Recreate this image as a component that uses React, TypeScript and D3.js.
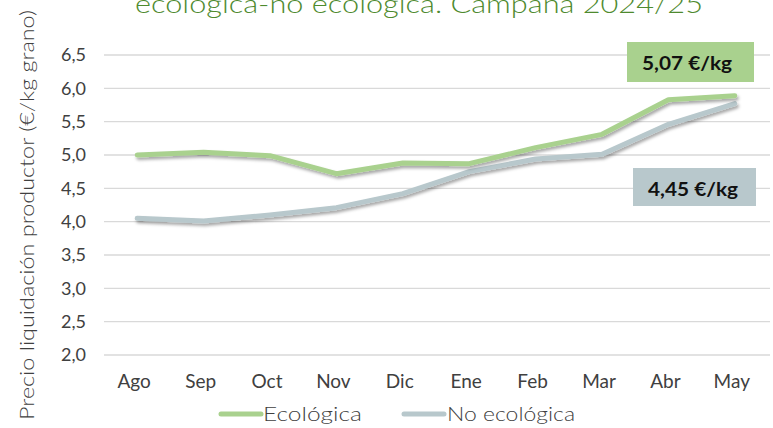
import React from 'react'
import * as d3 from 'd3'

const months = ['Ago', 'Sep', 'Oct', 'Nov', 'Dic', 'Ene', 'Feb', 'Mar', 'Abr', 'May']
const ecologica = [5.0, 5.04, 4.99, 4.72, 4.88, 4.87, 5.11, 5.31, 5.83, 5.89]
const noEcologica = [4.05, 4.01, 4.1, 4.21, 4.42, 4.75, 4.94, 5.01, 5.46, 5.77]
const yTicks = [2.0, 2.5, 3.0, 3.5, 4.0, 4.5, 5.0, 5.5, 6.0, 6.5]
const labelEco = '5,07 €/kg'
const labelNoEco = '4,45 €/kg'
const seriesNames = ['Ecológica', 'No ecológica']

const W = 773
const H = 428
const font = 'Lato, "DejaVu Sans", sans-serif'
const green = '#a9d18e'
const grey = '#b8c8cc'
const textCol = '#404040'

const App = () => {
  let x = d3.scaleBand().domain(months).range([104, 768])
  let y = d3.scaleLinear().domain([2, 6.5]).range([355, 55])
  let cx = (m: string) => (x(m) || 0) + x.bandwidth() / 2

  let line = d3.line<number>()
    .x((d, i) => cx(months[i]))
    .y(d => y(d))

  let fmt = (v: number) => d3.format('.1f')(v).replace('.', ',')

  return (
    <svg width={W} height={H} style={{ position: 'absolute', left: 0, top: 0, background: '#fff' }}>
      <defs>
        <filter id="shadow" x="-10%" y="-50%" width="120%" height="200%">
          <feDropShadow dx="1.5" dy="2.5" stdDeviation="1.6" floodColor="#000" floodOpacity="0.35" />
        </filter>
      </defs>

      {/* title, cut at the top like the original */}
      <text x={135} y={13} textLength={568} lengthAdjust="spacingAndGlyphs" fontFamily={font}
        fontWeight={300} fontSize={25} fill="#4e8a2e">
        ecológica-no ecológica. Campaña 2024/25
      </text>

      {yTicks.map(t => (
        <g key={t}>
          <line x1={104} x2={770} y1={y(t)} y2={y(t)} stroke="#d9d9d9" strokeWidth={1.3} />
          <text x={86} y={y(t)} dy="0.35em" textAnchor="end" fontFamily={font} fontSize={18} fill={textCol}>
            {fmt(t)}
          </text>
        </g>
      ))}

      <text transform="translate(34,420) rotate(-90)" textLength={410} lengthAdjust="spacingAndGlyphs"
        fontFamily={font} fontWeight={300} fontSize={19} fill={textCol}>
        Precio liquidación productor (€/kg grano)
      </text>

      {months.map(m => (
        <text key={m} x={cx(m) - 3} y={388} textAnchor="middle" fontFamily={font} fontSize={19} fill={textCol}>
          {m}
        </text>
      ))}

      <path d={line(noEcologica) || ''} fill="none" stroke={grey} strokeWidth={5}
        strokeLinejoin="round" strokeLinecap="round" filter="url(#shadow)" />
      <path d={line(ecologica) || ''} fill="none" stroke={green} strokeWidth={5}
        strokeLinejoin="round" strokeLinecap="round" filter="url(#shadow)" />

      <rect x={627} y={42} width={127} height={40} fill={green} />
      <text x={642} y={70} textLength={90} lengthAdjust="spacingAndGlyphs" fontFamily={font}
        fontWeight="bold" fontSize={19} fill="#111">
        {labelEco}
      </text>
      <rect x={633} y={168} width={123} height={38} fill={grey} />
      <text x={648} y={196} textLength={90} lengthAdjust="spacingAndGlyphs" fontFamily={font}
        fontWeight="bold" fontSize={19} fill="#111">
        {labelNoEco}
      </text>

      <line x1={221} x2={261} y1={414} y2={414} stroke={green} strokeWidth={5} strokeLinecap="round" />
      <text x={263} y={421} textLength={99} lengthAdjust="spacingAndGlyphs" fontFamily={font}
        fontWeight={300} fontSize={19} fill={textCol}>{seriesNames[0]}</text>
      <line x1={404} x2={444} y1={414} y2={414} stroke={grey} strokeWidth={5} strokeLinecap="round" />
      <text x={447} y={421} textLength={128} lengthAdjust="spacingAndGlyphs" fontFamily={font}
        fontWeight={300} fontSize={19} fill={textCol}>{seriesNames[1]}</text>
    </svg>
  )
}

export default App
